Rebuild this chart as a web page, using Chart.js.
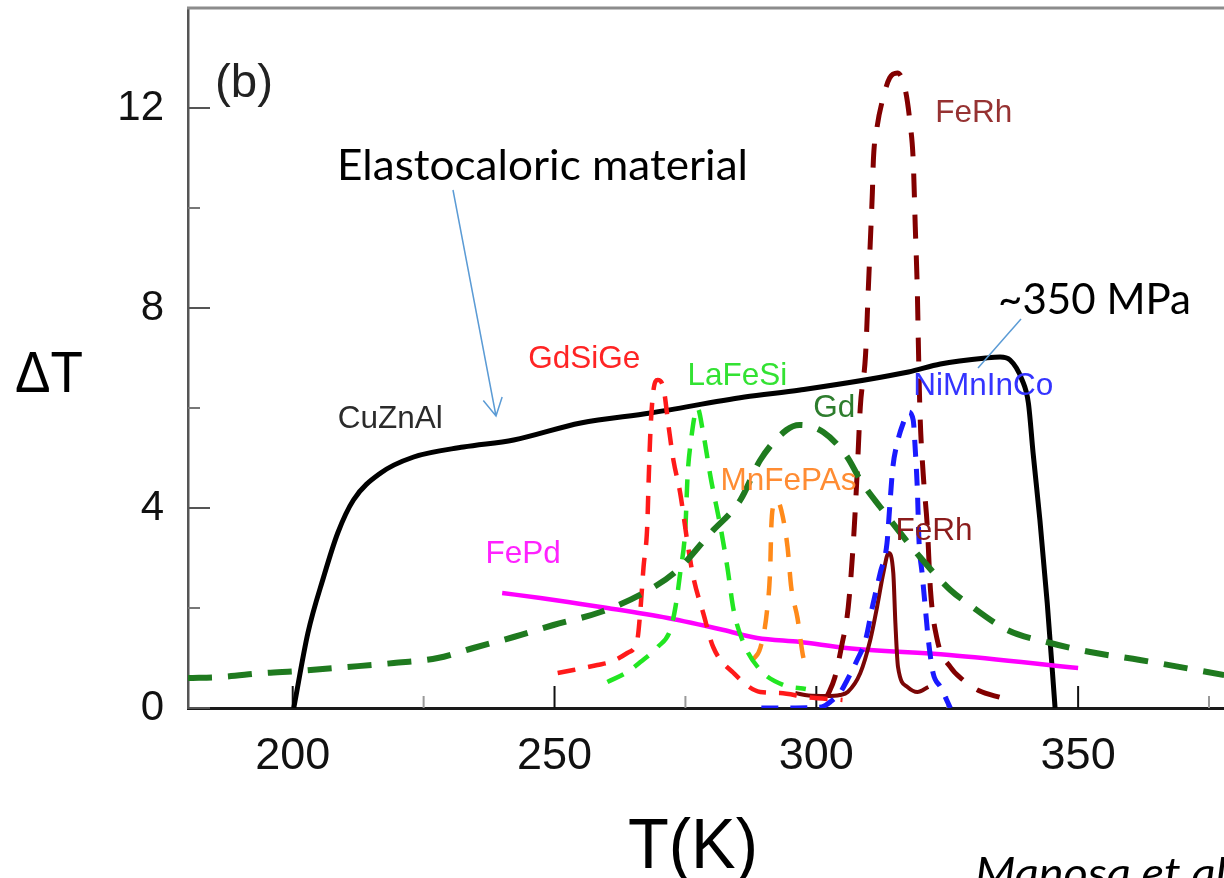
<!DOCTYPE html>
<html>
<head>
<meta charset="utf-8">
<script src="https://cdn.jsdelivr.net/npm/chart.js@4.4.1/dist/chart.umd.min.js"></script>
<style>
html,body{margin:0;padding:0;background:#fff;overflow:hidden;}
#wrap{position:relative;width:1224px;height:878px;}
</style>
</head>
<body>
<div id="wrap"><canvas id="c" width="1224" height="878"></canvas></div>
<script>
// ---------- tick labels ----------
const xTickValues = [200, 250, 300, 350];
const xMinorTicks = [225, 275, 325, 375];
const yTickValues = [0, 4, 8, 12];
const yMinorTicks = [2, 6, 10];

// ---------- series (T in K, ΔT) ----------
const cuznalT  = [200.2, 202.9, 205.9, 208.6, 211.6, 216.8, 223.1, 232.6, 242.2, 255.0, 268.3, 286.3, 296.9, 317.6, 323.7, 332.4, 335.1, 337.0, 339.3, 340.5, 341.4, 342.7, 344.1, 345.6];
const cuznalDT = [0, 1.5, 2.62, 3.5, 4.16, 4.7, 5.02, 5.22, 5.36, 5.7, 5.9, 6.22, 6.36, 6.72, 6.88, 7.0, 7.02, 6.96, 6.56, 6.1, 5.1, 3.76, 2.1, 0];

const fepdT  = [240, 247.3, 255, 260.1, 271.6, 282.3, 288.7, 296.9, 305.7, 325.4, 350];
const fepdDT = [2.3, 2.2, 2.08, 2.0, 1.8, 1.56, 1.4, 1.32, 1.2, 1.06, 0.8];

const gdT  = [180, 186.3, 194.5, 201, 210.5, 219.3, 227.7, 234.5, 242.2, 249.8, 258.8, 267, 273.5, 279.8, 285.5, 289.3, 294.3, 296.8, 301.3, 305.9, 308.4, 312.2, 319.8, 325.6, 328.8, 336.5, 344.7, 352.3, 361.8, 377.9];
const gdDT = [0.6, 0.62, 0.7, 0.74, 0.82, 0.9, 1.0, 1.2, 1.42, 1.66, 1.92, 2.3, 2.76, 3.5, 4.16, 4.96, 5.56, 5.66, 5.52, 5.02, 4.56, 4.02, 3.02, 2.36, 2.1, 1.56, 1.3, 1.12, 0.96, 0.66];

const gdsigeT  = [250.6, 253.6, 258.2, 260.7, 263.9, 265.8, 266.4, 267.0, 267.7, 268.0, 268.3, 268.9, 269.7, 270.8, 271.8, 272.7, 274.0, 275.4, 276.5, 278.4, 280.3, 284.2, 289.3, 293.1, 298.0, 305.0];
const gdsigeDT = [0.7, 0.76, 0.86, 0.92, 1.1, 1.36, 1.96, 2.82, 3.62, 4.62, 5.5, 6.36, 6.56, 6.4, 5.62, 4.96, 4.3, 3.3, 2.62, 1.9, 1.22, 0.7, 0.32, 0.3, 0.22, 0.16];

const lafesiT  = [260.1, 263.9, 266.4, 269.7, 272.1, 273.1, 274.0, 275.0, 275.4, 276.0, 277.3, 278.4, 279.8, 281.7, 283.0, 284.2, 286.1, 289.3, 293.7, 298.0];
const lafesiDT = [0.52, 0.72, 0.92, 1.22, 1.56, 2.02, 2.7, 3.62, 4.62, 5.3, 6.0, 5.5, 4.62, 3.62, 2.82, 1.96, 1.3, 0.76, 0.46, 0.38];

const mnfepasT  = [287.8, 289.3, 290.6, 291.2, 291.4, 291.8, 292.5, 293.3, 294.5, 295.2, 296.4, 297.5, 298.3];
const mnfepasDT = [0.96, 1.2, 1.96, 2.82, 3.62, 4.05, 4.15, 3.96, 3.22, 2.42, 1.8, 1.02, 0.82];

const ferhDashT  = [302.0, 303.5, 304.8, 306.1, 307.1, 307.8, 308.4, 309.4, 309.9, 310.3, 310.7, 310.9, 311.6, 312.8, 314.0, 315.5, 317.0, 317.9, 318.5, 318.9, 319.3, 319.5, 319.8, 320.4, 321.2, 321.8, 323.1, 325.6, 328.0, 331.0, 335.5];
const ferhDashDT = [0.22, 0.6, 1.22, 2.02, 3.36, 4.7, 6.02, 7.06, 8.3, 9.3, 10.3, 10.96, 11.62, 12.22, 12.6, 12.7, 12.36, 11.7, 10.96, 9.62, 8.3, 7.22, 5.9, 4.7, 3.62, 2.36, 1.36, 0.82, 0.56, 0.35, 0.2];

const ferhSolidT  = [296.0, 298.5, 302.0, 304.5, 306.0, 308.4, 310.3, 311.6, 312.8, 313.8, 314.7, 315.1, 315.6, 317.4, 319.3, 321.4];
const ferhSolidDT = [0.3, 0.25, 0.24, 0.26, 0.32, 0.7, 1.36, 2.02, 2.7, 3.1, 2.7, 1.7, 0.82, 0.42, 0.32, 0.42];

const nimninT  = [289.5, 295.0, 301.0, 303.0, 304.5, 305.9, 307.8, 309.4, 310.7, 312.2, 313.5, 314.0, 314.6, 315.6, 316.6, 317.6, 318.5, 318.9, 319.3, 319.6, 320.2, 320.8, 321.4, 322.3, 323.7, 325.6];
const nimninDT = [0.0, 0.0, 0.02, 0.15, 0.3, 0.56, 0.96, 1.36, 2.02, 2.7, 3.3, 4.0, 4.8, 5.36, 5.7, 5.92, 5.76, 5.16, 4.36, 3.36, 2.7, 2.02, 1.36, 0.7, 0.42, 0.0];

// ---------- series labels ----------
const labelTexts = ['CuZnAl', 'FePd', 'GdSiGe', 'LaFeSi', 'Gd', 'MnFePAs', 'FeRh', 'NiMnInCo', 'FeRh'];
const labelT     = [208.6, 236.8, 245.0, 275.4, 299.4, 281.7, 315.1, 318.5, 322.7];
const labelDT    = [5.6, 2.9, 6.8, 6.46, 5.82, 4.36, 3.36, 6.26, 11.72];
const labelColors = ['#2b2b2b', '#ff22ff', '#ff2424', '#33e233', '#2d7d2d', '#ff8c33', '#8b1c1c', '#3434ff', '#963232'];

function pts(xs, ys) { return xs.map((x, i) => ({x: x, y: ys[i]})); }
function ds(label, xs, ys, color, width, dash) {
  return {
    label: label, data: pts(xs, ys), borderColor: color, borderWidth: width,
    borderDash: dash || [], pointRadius: 0, fill: false,
    cubicInterpolationMode: 'monotone', borderCapStyle: 'butt', borderJoinStyle: 'round'
  };
}

const datasets = [
  ds('Gd', gdT, gdDT, '#1f7a1f', 6, [24, 16]),
  ds('GdSiGe', gdsigeT, gdsigeDT, '#ff1a1a', 4.5, [18, 13]),
  ds('LaFeSi', lafesiT, lafesiDT, '#22e622', 4.5, [18, 13]),
  ds('MnFePAs', mnfepasT, mnfepasDT, '#ff8a1a', 4.5, [19, 15]),
  ds('FeRh dashed', ferhDashT, ferhDashDT, '#820000', 5, [24, 17]),
  ds('NiMnInCo', nimninT, nimninDT, '#1a1aff', 5, [17, 12]),
  ds('FeRh', ferhSolidT, ferhSolidDT, '#7a0606', 4, null),
  ds('FePd', fepdT, fepdDT, '#ff00ff', 4.5, null),
  ds('CuZnAl', cuznalT, cuznalDT, '#000000', 5, null)
];

function fitText(ctx, text, x, y, font, color, width) {
  ctx.save();
  ctx.font = font;
  ctx.fillStyle = color;
  ctx.textBaseline = 'alphabetic';
  ctx.textAlign = 'left';
  const w = ctx.measureText(text).width;
  const s = width ? width / w : 1;
  ctx.translate(x, y);
  ctx.scale(s, 1);
  ctx.fillText(text, 0, 0);
  ctx.restore();
}

function arrow(ctx, x1, y1, x2, y2, head) {
  ctx.beginPath();
  ctx.moveTo(x1, y1); ctx.lineTo(x2, y2);
  if (head) {
    const a = Math.atan2(y2 - y1, x2 - x1);
    const L = 20, sp = 0.5;
    ctx.moveTo(x2 - L * Math.cos(a - sp), y2 - L * Math.sin(a - sp));
    ctx.lineTo(x2, y2);
    ctx.lineTo(x2 - L * Math.cos(a + sp), y2 - L * Math.sin(a + sp));
  }
  ctx.stroke();
}

const framePlugin = {
  id: 'frame',
  beforeDatasetsDraw(chart) {
    const {ctx, chartArea, scales} = chart;
    const xs = scales.x, ys = scales.y;
    ctx.save();
    // top frame line
    ctx.strokeStyle = '#8c8c8c';
    ctx.lineWidth = 3;
    ctx.beginPath();
    ctx.moveTo(chartArea.left - 1, chartArea.top);
    ctx.lineTo(chartArea.right, chartArea.top);
    ctx.stroke();
    // inner ticks
    ctx.lineWidth = 2;
    xTickValues.forEach(v => {
      const p = xs.getPixelForValue(v);
      ctx.strokeStyle = '#111';
      ctx.beginPath(); ctx.moveTo(p, chartArea.bottom); ctx.lineTo(p, chartArea.bottom - 22); ctx.stroke();
    });
    xMinorTicks.forEach(v => {
      const p = xs.getPixelForValue(v);
      ctx.strokeStyle = '#999';
      ctx.beginPath(); ctx.moveTo(p, chartArea.bottom); ctx.lineTo(p, chartArea.bottom - 12); ctx.stroke();
    });
    yTickValues.forEach(v => {
      const p = ys.getPixelForValue(v);
      ctx.strokeStyle = '#555';
      ctx.beginPath(); ctx.moveTo(chartArea.left, p); ctx.lineTo(chartArea.left + 22, p); ctx.stroke();
    });
    yMinorTicks.forEach(v => {
      const p = ys.getPixelForValue(v);
      ctx.strokeStyle = '#777';
      ctx.beginPath(); ctx.moveTo(chartArea.left, p); ctx.lineTo(chartArea.left + 12, p); ctx.stroke();
    });
    ctx.restore();
  },
  afterDraw(chart) {
    const {ctx, scales} = chart;
    const xs = scales.x, ys = scales.y;
    labelTexts.forEach((t, i) => {
      fitText(ctx, t, xs.getPixelForValue(labelT[i]), ys.getPixelForValue(labelDT[i]),
        '31.5px "Liberation Sans", Arial, sans-serif', labelColors[i], null);
    });
    fitText(ctx, '(b)', 215, 97, '46px "Liberation Sans", Arial, sans-serif', '#222', 58);
    fitText(ctx, 'Elastocaloric material', 337, 180, '42px Lato, "Open Sans", sans-serif', '#000', 411);
    fitText(ctx, '~350 MPa', 998, 314, '42px Lato, "Open Sans", sans-serif', '#000', 193);
    fitText(ctx, '\u0394T', 15, 392, '57px "Liberation Sans", Arial, sans-serif', '#000', 68);
    fitText(ctx, 'T(K)', 628, 868, '70px "Liberation Sans", Arial, sans-serif', '#000', 130);
    fitText(ctx, 'Manosa et al.', 975, 888, 'italic 42px Lato, "Open Sans", sans-serif', '#000', 262);
    ctx.save();
    ctx.strokeStyle = '#5b9bd5';
    ctx.lineWidth = 1.5;
    arrow(ctx, 453, 190, 496, 416, true);
    arrow(ctx, 1021, 319, 978, 368, false);
    ctx.restore();
  }
};

new Chart(document.getElementById('c'), {
  type: 'line',
  data: { datasets: datasets },
  options: {
    responsive: false,
    animation: false,
    devicePixelRatio: 1,
    layout: { padding: { top: 8, left: 0, right: 0, bottom: 0 } },
    plugins: { legend: { display: false }, tooltip: { enabled: false } },
    scales: {
      x: {
        type: 'linear', min: 180, max: 377.86,
        grid: { display: false, drawTicks: false, tickLength: 0 },
        border: { display: true, color: '#1a1a1a', width: 3 },
        ticks: { color: '#111', font: { family: '"Liberation Sans", Arial, sans-serif', size: 45 }, padding: 22, maxRotation: 0, autoSkip: false },
        afterBuildTicks: s => { s.ticks = xTickValues.map(v => ({ value: v })); },
        afterFit: s => { s.height = 170; s.paddingLeft = 0; s.paddingRight = 0; }
      },
      y: {
        type: 'linear', min: 0, max: 14,
        grid: { display: false, drawTicks: false, tickLength: 0 },
        border: { display: true, color: '#555', width: 2.5 },
        ticks: { color: '#111', font: { family: '"Liberation Sans", Arial, sans-serif', size: 42 }, padding: 24, autoSkip: false },
        afterBuildTicks: s => { s.ticks = yTickValues.map(v => ({ value: v })); },
        afterFit: s => { s.width = 188; s.paddingTop = 0; s.paddingBottom = 0; }
      }
    }
  },
  plugins: [framePlugin]
});
</script>
</body>
</html>
